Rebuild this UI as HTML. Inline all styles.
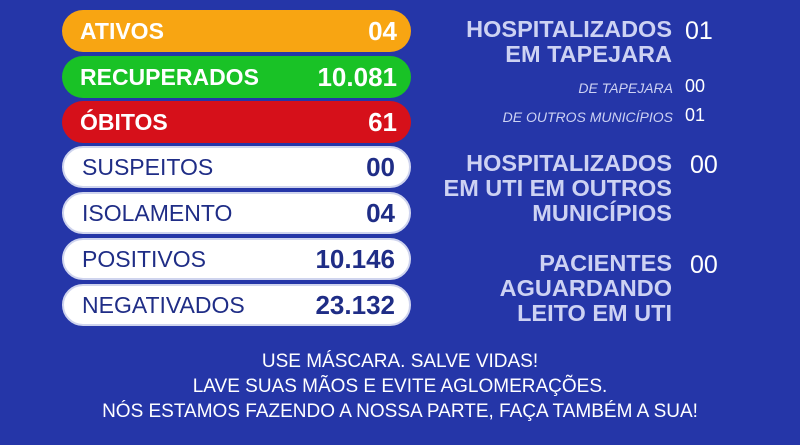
<!DOCTYPE html>
<html><head><meta charset="utf-8"><style>
*{margin:0;padding:0;box-sizing:border-box}
body{width:800px;height:445px;background:#2536a8;position:relative;overflow:hidden;font-family:"Liberation Sans",sans-serif}
.p{position:absolute;left:62px;width:349px;height:42px;border-radius:21px;font-size:23px;line-height:42px;padding:0 14px 0 18px;display:flex;justify-content:space-between}
.p b{font-weight:bold;font-size:26px}
.c{color:#fff;font-weight:bold}
.w{background:#fff;color:#1f2d86;border:2px solid #cfd4ee;line-height:38px}
.w b{color:#1f2d86}
.t{position:absolute;color:#cdd2f3;font-weight:bold;text-align:right}
.n{position:absolute;color:#fff;font-size:25px}
.s{position:absolute;color:#cdd2f3;font-style:italic;font-size:14px;text-align:right}
.f{position:absolute;left:0;width:800px;text-align:center;color:#fff;font-size:19px}
</style></head><body>
<div class="p c" style="top:10px;background:#f8a512"><span>ATIVOS</span><b>04</b></div>
<div class="p c" style="top:56px;background:#19c226"><span>RECUPERADOS</span><b>10.081</b></div>
<div class="p c" style="top:101px;background:#d6101a"><span>ÓBITOS</span><b>61</b></div>
<div class="p w" style="top:146px"><span>SUSPEITOS</span><b>00</b></div>
<div class="p w" style="top:192px"><span>ISOLAMENTO</span><b>04</b></div>
<div class="p w" style="top:238px"><span>POSITIVOS</span><b>10.146</b></div>
<div class="p w" style="top:284px"><span>NEGATIVADOS</span><b>23.132</b></div>

<div class="t" style="right:128px;top:17px;font-size:23.5px;line-height:25px">HOSPITALIZADOS<br>EM TAPEJARA</div>
<div class="n" style="left:685px;top:17px">01</div>
<div class="s" style="right:127px;top:80px">DE TAPEJARA</div>
<div class="n" style="left:685px;top:76px;font-size:18px">00</div>
<div class="s" style="right:127px;top:109px">DE OUTROS MUNICÍPIOS</div>
<div class="n" style="left:685px;top:105px;font-size:18px">01</div>

<div class="t" style="right:128px;top:151px;font-size:23.5px;line-height:25px">HOSPITALIZADOS<br>EM UTI EM OUTROS<br>MUNICÍPIOS</div>
<div class="n" style="left:690px;top:151px">00</div>

<div class="t" style="right:128px;top:251px;font-size:23.5px;line-height:25px">PACIENTES<br>AGUARDANDO<br>LEITO EM UTI</div>
<div class="n" style="left:690px;top:251px">00</div>

<div class="f" style="top:351px">USE MÁSCARA. SALVE VIDAS!</div>
<div class="f" style="top:376px">LAVE SUAS MÃOS E EVITE AGLOMERAÇÕES.</div>
<div class="f" style="top:401px">NÓS ESTAMOS FAZENDO A NOSSA PARTE, FAÇA TAMBÉM A SUA!</div>
</body></html>
